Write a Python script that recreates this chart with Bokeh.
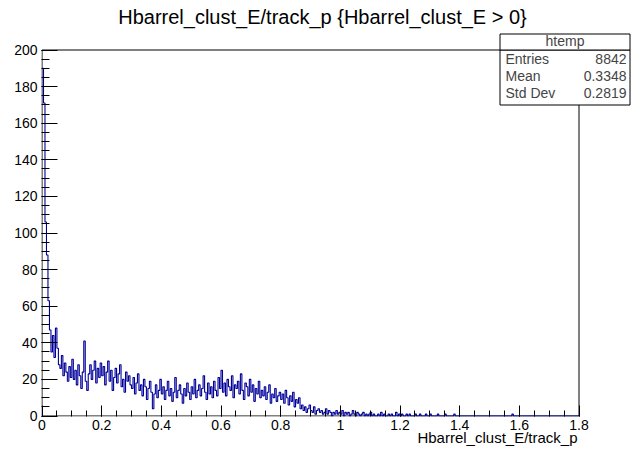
import numpy as np
from bokeh.plotting import figure
from bokeh.models import FixedTicker, CustomJSTickFormatter, Label, BoxAnnotation, Range1d, Title
from bokeh.embed import file_html
from bokeh.resources import INLINE

TITLE = "Hbarrel_clust_E/track_p {Hbarrel_clust_E > 0}"
X_TITLE = "Hbarrel_clust_E/track_p"
STATS_NAME = "htemp"
STATS_LABELS = ["Entries", "Mean", "Std Dev"]
STATS_VALUES = ["8842", "0.3348", "0.2819"]

X_MIN, X_MAX = 0.0, 1.8
Y_MIN, Y_MAX = 0, 200
BIN_WIDTH = 0.005
X_TICKS = [0, 0.2, 0.4, 0.6, 0.8, 1.0, 1.2, 1.4, 1.6, 1.8]
Y_TICKS = [0, 20, 40, 60, 80, 100, 120, 140, 160, 180, 200]
X_MINOR_STEP = 0.05
Y_MINOR_STEP = 5

# bin contents, 40 bins per 0.2 wide segment
counts_000_020 = [190, 171, 106, 88, 63, 47, 35, 44, 32, 48, 37, 28, 26, 33, 22, 29, 24, 19, 27, 21,
                  31, 20, 25, 17, 28, 22, 15, 24, 41, 19, 14, 23, 28, 20, 25, 30, 18, 26, 21, 29]
counts_020_040 = [22, 27, 17, 24, 30, 19, 25, 14, 21, 26, 18, 23, 28, 16, 20, 13, 24, 19, 22, 17,
                  15, 21, 12, 18, 23, 14, 17, 11, 20, 16, 9, 15, 19, 13, 4, 12, 17, 10, 14, 20]
counts_040_060 = [12, 16, 9, 14, 19, 11, 15, 8, 13, 21, 10, 14, 17, 12, 7, 15, 11, 18, 13, 9,
                  16, 12, 20, 10, 14, 17, 11, 15, 22, 13, 9, 18, 12, 16, 10, 19, 14, 11, 21, 15]
counts_060_080 = [25, 13, 18, 11, 20, 16, 14, 22, 10, 17, 15, 19, 12, 23, 14, 9, 18, 16, 11, 20,
                  13, 17, 8, 15, 12, 19, 10, 14, 11, 16, 9, 13, 17, 7, 12, 10, 15, 8, 11, 13]
counts_080_100 = [9, 12, 7, 14, 10, 6, 11, 8, 13, 5, 9, 7, 10, 4, 6, 3, 5, 2, 4, 6,
                  3, 2, 5, 1, 3, 4, 2, 3, 1, 2, 4, 1, 3, 2, 0, 2, 1, 3, 1, 2]
counts_100_120 = [1, 3, 0, 2, 1, 2, 0, 1, 3, 1, 0, 2, 1, 0, 1, 2, 0, 1, 0, 1,
                  2, 0, 1, 0, 0, 1, 0, 2, 0, 1, 0, 0, 1, 0, 1, 0, 0, 2, 0, 1]
counts_120_140 = [0, 1, 0, 0, 1, 0, 1, 0, 0, 0, 1, 0, 0, 1, 0, 0, 0, 1, 0, 0,
                  1, 0, 0, 0, 0, 1, 0, 0, 0, 0, 1, 0, 0, 0, 0, 0, 1, 0, 0, 0]
counts_140_160 = [0, 0, 0, 0, 0, 0, 0, 0, 0, 0, 0, 0, 0, 0, 0, 0, 0, 0, 0, 0,
                  0, 0, 0, 0, 0, 0, 0, 0, 0, 0, 0, 0, 0, 0, 0, 1, 0, 0, 0, 0]
counts_160_180 = [0, 0, 0, 0, 0, 0, 0, 0, 0, 0, 0, 0, 0, 0, 0, 0, 0, 0, 0, 0,
                  0, 0, 0, 0, 0, 0, 0, 0, 0, 0, 0, 0, 0, 0, 0, 0, 0, 0, 0, 0]

counts = (counts_000_020 + counts_020_040 + counts_040_060 + counts_060_080 + counts_080_100
          + counts_100_120 + counts_120_140 + counts_140_160 + counts_160_180)
edges = X_MIN + BIN_WIDTH * np.arange(len(counts) + 1)

FONT = "Liberation Sans"
HIST_COLOR = "#000099"

# Layout (pixels): the plotting frame covers the canvas right of the y axis and
# above the x axis; the ROOT "frame" (0..1.8, 0..200) sits inside it so that the
# title and statistics box can be drawn as in-frame annotations.
W, H = 631, 450
FRAME_LEFT, FRAME_BOTTOM = 41, 416               # canvas edges of the bokeh frame
X0_PX, Y0_PX = 41.5, 415.5                       # canvas position of (0, 0)
X1_PX, Y1_PX = 578.5, 49.5                       # canvas position of (1.8, 200)
ux = (X_MAX - X_MIN) / (X1_PX - X0_PX)
uy = (Y_MAX - Y_MIN) / (Y0_PX - Y1_PX)
x_start = X_MIN - (X0_PX - FRAME_LEFT) * ux
x_end = X_MAX + (W - X1_PX) * ux
y_start = Y_MIN - (FRAME_BOTTOM - Y0_PX) * uy
y_end = Y_MAX + Y1_PX * uy

p = figure(width=W, height=H, x_range=Range1d(x_start, x_end), y_range=Range1d(y_start, y_end),
           output_backend="svg", toolbar_location=None,
           min_border_left=FRAME_LEFT, min_border_right=0, min_border_top=0,
           min_border_bottom=H - FRAME_BOTTOM)
p.title.visible = False
p.grid.visible = False
p.outline_line_color = None
p.background_fill_color = "white"
p.border_fill_color = "white"

# ROOT frame box
p.quad(left=[X_MIN], right=[X_MAX], bottom=[Y_MIN], top=[Y_MAX],
       fill_color=None, line_color="black", line_width=1)

p.step(x=list(edges), y=counts + [counts[-1]], mode="after", line_color=HIST_COLOR, line_width=1.1)

minor_x = list(np.round(np.arange(X_MIN, X_MAX + 1e-9, X_MINOR_STEP), 3))
minor_y = list(range(Y_MIN, Y_MAX + 1, Y_MINOR_STEP))
p.xaxis.ticker = FixedTicker(ticks=X_TICKS, minor_ticks=minor_x)
p.yaxis.ticker = FixedTicker(ticks=Y_TICKS, minor_ticks=minor_y)
p.xaxis.formatter = CustomJSTickFormatter(code="return tick.toFixed(1).replace(/\\.0$/, '');")

for ax in (p.xaxis[0], p.yaxis[0]):
    ax.axis_line_color = None
    ax.major_tick_line_color = "black"
    ax.minor_tick_line_color = "black"
    ax.major_tick_out = 0
    ax.minor_tick_out = 0
    ax.major_label_text_font = FONT
    ax.major_label_text_font_size = "14px"
    ax.major_label_text_color = "black"
p.xaxis.major_tick_in = 11
p.xaxis.minor_tick_in = 6
p.yaxis.major_tick_in = 16
p.yaxis.minor_tick_in = 8
p.xaxis.major_label_standoff = 3
p.yaxis.major_label_standoff = 4

# x-axis title, right-aligned at the ROOT frame's right edge
p.add_layout(Title(text=X_TITLE, align="right", offset=W - X1_PX + 1.5, standoff=-8,
                   vertical_align="top",
                   text_font=FONT, text_font_size="15px", text_font_style="normal",
                   text_color="black"), "below")


def sx(px):
    return px - FRAME_LEFT


def sy(py):
    return FRAME_BOTTOM - py


# main title
p.add_layout(Label(x=sx(322), y=sy(16), x_units="screen", y_units="screen", text=TITLE,
                   text_font=FONT, text_font_size="20px", text_align="center",
                   text_baseline="middle", text_color="black"))

# stats box
box_l, box_r, box_t, box_m, box_b = sx(499.5), sx(629.5), sy(33.5), sy(49.5), sy(104.5)
for top, bottom in ((box_m, box_b), (box_t, box_m)):
    p.add_layout(BoxAnnotation(left=box_l, right=box_r, top=top, bottom=bottom,
                               left_units="screen", right_units="screen", top_units="screen",
                               bottom_units="screen", fill_color="white", fill_alpha=1.0,
                               line_color="black", line_alpha=1.0, line_width=1,
                               level="overlay"))
p.add_layout(Label(x=(box_l + box_r) / 2, y=sy(40), x_units="screen", y_units="screen",
                   text=STATS_NAME, text_font=FONT, text_font_size="14px",
                   text_align="center", text_baseline="middle", level="overlay"))
row_py = [58, 75, 92]
for name, val, py in zip(STATS_LABELS, STATS_VALUES, row_py):
    p.add_layout(Label(x=sx(505), y=sy(py), x_units="screen", y_units="screen", text=name,
                       text_font=FONT, text_font_size="14px", text_align="left",
                       text_baseline="middle", level="overlay"))
    p.add_layout(Label(x=sx(626), y=sy(py), x_units="screen", y_units="screen", text=val,
                       text_font=FONT, text_font_size="14px", text_align="right",
                       text_baseline="middle", level="overlay"))

open("out.html", "w").write(file_html(p, INLINE))
